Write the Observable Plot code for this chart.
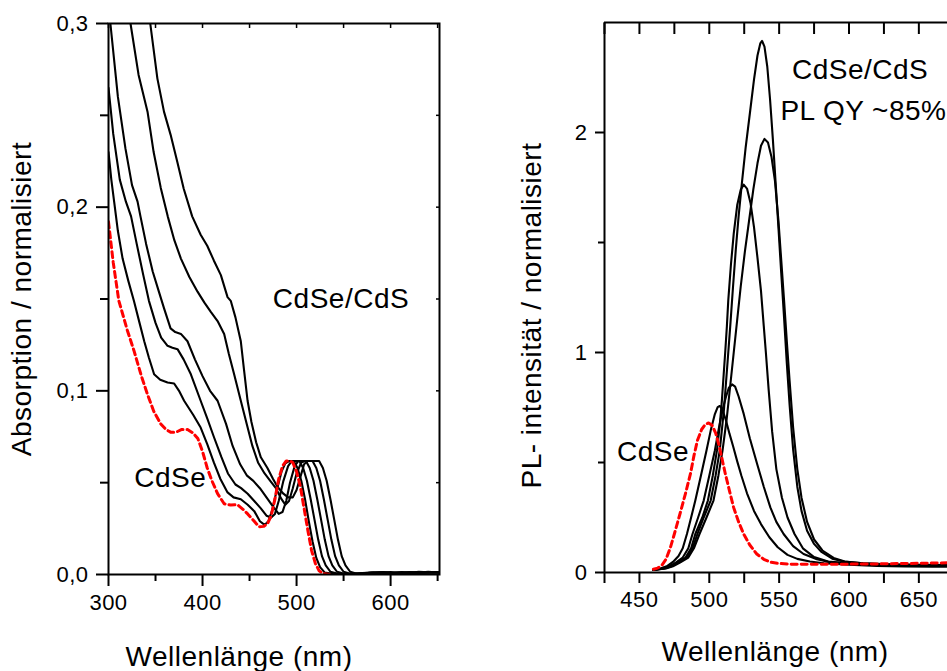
<!DOCTYPE html>
<html><head><meta charset="utf-8">
<script src="https://cdn.jsdelivr.net/npm/d3@7"></script>
<script src="https://cdn.jsdelivr.net/npm/@observablehq/plot@0.6"></script>
<style>
body{margin:0;background:#fff;}
#wrap{position:relative;width:947px;height:671px;overflow:hidden;background:#fff;}
#left,#right{position:absolute;top:0;}
#left{left:0px;}
#right{left:470px;}
</style></head><body>
<div id="wrap"><div id="left"></div><div id="right"></div></div>
<script>
// ---------- Absorption (left panel) ----------
const absCdSe = [[300,0.192],[305,0.17],[311,0.149],[320,0.133],[327,0.122],[335,0.108],[341.5,0.098],[348,0.089],[355.6,0.082],[361,0.079],[366,0.0775],[372,0.0775],[378,0.079],[384,0.079],[390,0.077],[395,0.074],[400,0.067],[405,0.058],[410,0.051],[416,0.044],[423,0.0385],[430,0.0378],[437,0.038],[443,0.0355],[448,0.033],[455,0.029],[460,0.026],[465,0.0262],[469,0.0275],[473,0.032],[477,0.041],[481,0.052],[485,0.059],[489,0.0618],[493,0.0618],[496,0.061],[500,0.056],[504,0.048],[508,0.036],[512,0.024],[516,0.013],[520,0.006],[524,0.002],[528,0.0005],[535,0]];
const absShell1 = [[300,0.23],[303,0.215],[306,0.203],[310,0.187],[315,0.172],[321,0.16],[327,0.149],[333,0.137],[338,0.127],[343,0.118],[348.5,0.109],[355,0.106],[362.8,0.1045],[369.8,0.104],[375,0.1],[380.4,0.0946],[390,0.087],[398,0.08],[405,0.071],[412,0.061],[419,0.052],[426.6,0.0447],[433,0.042],[440.7,0.041],[448,0.038],[455,0.0345],[461,0.029],[466,0.027],[470,0.029],[474,0.035],[479,0.046],[484,0.056],[488,0.0605],[492,0.0618],[497,0.0618],[501,0.058],[505,0.051],[509,0.041],[513,0.029],[517,0.018],[521,0.009],[525,0.004],[530,0.001],[540,0.0003],[552,0.0002],[565,0.0006],[580,0.001],[595,0.0006],[610,0.0012],[625,0.0008],[640,0.0015],[652,0.001]];
const absShell2 = [[300,0.265],[305,0.24],[312,0.215],[318.5,0.203],[324,0.195],[330,0.18],[337,0.163],[343,0.149],[350,0.137],[356,0.129],[362.8,0.1245],[368,0.1235],[373.4,0.1227],[380,0.117],[387.6,0.109],[398,0.0946],[405,0.085],[412,0.075],[420,0.064],[427,0.055],[435,0.049],[441,0.047],[448,0.044],[455,0.04],[462,0.036],[468,0.032],[473,0.031],[477,0.033],[481,0.04],[486,0.051],[491,0.059],[495,0.0618],[503,0.0618],[507,0.058],[511,0.051],[515,0.041],[519,0.03],[523,0.019],[527,0.01],[531,0.005],[536,0.0015],[545,0.0003],[556,0.0002],[568,0.0007],[582,0.0011],[597,0.0005],[612,0.0013],[627,0.0007],[642,0.0014],[652,0.0009]];
const absShell3 = [[300,0.31],[302,0.3],[310,0.26],[318,0.232],[325,0.212],[330.9,0.203],[334,0.195],[340,0.18],[347,0.165],[353,0.155],[359,0.145],[366,0.134],[371,0.132],[377,0.131],[384,0.127],[392,0.117],[400,0.108],[408,0.1],[416,0.0946],[425,0.082],[432,0.07],[440,0.06],[447,0.054],[454,0.051],[461,0.047],[468,0.042],[475,0.037],[481,0.033],[485,0.034],[489,0.04],[493,0.05],[498,0.059],[502,0.0618],[510,0.0618],[514,0.058],[518,0.051],[522,0.041],[526,0.03],[530,0.019],[534,0.01],[538,0.005],[543,0.0015],[552,0.0003],[562,0.0002],[575,0.0008],[590,0.0012],[605,0.0005],[620,0.0014],[635,0.0009],[652,0.0012]];
const absShell4 = [[318,0.33],[323.4,0.3],[332,0.272],[341.5,0.252],[348,0.23],[355.6,0.2105],[363,0.195],[370,0.182],[377,0.172],[386,0.162],[394.7,0.154],[402,0.148],[408.8,0.143],[416,0.138],[423,0.131],[428,0.12],[433.6,0.109],[440.7,0.0946],[447,0.082],[453,0.07],[459,0.061],[466,0.055],[472,0.051],[478,0.047],[484,0.041],[488,0.038],[492,0.04],[496,0.047],[500,0.055],[505,0.061],[509,0.0618],[517,0.0618],[521,0.058],[525,0.051],[529,0.041],[533,0.03],[537,0.019],[541,0.01],[545,0.005],[550,0.0015],[558,0.0003],[568,0.0002],[578,0.0009],[592,0.0013],[607,0.0006],[622,0.0012],[637,0.001],[652,0.0014]];
const absShell5 = [[338,0.33],[344.4,0.3],[352,0.27],[359,0.252],[366,0.2395],[373,0.225],[380,0.21],[389,0.195],[398,0.185],[405,0.179],[412,0.171],[419.5,0.163],[426.6,0.151],[430,0.149],[435,0.14],[440.7,0.127],[444,0.112],[447.9,0.0946],[452,0.083],[457,0.072],[462,0.0638],[469,0.058],[475,0.052],[480,0.0475],[486,0.044],[491,0.042],[496,0.042],[500,0.046],[504,0.053],[508,0.06],[512,0.0618],[524,0.0618],[528,0.058],[532,0.051],[536,0.041],[540,0.03],[544,0.019],[548,0.01],[552,0.005],[557,0.0015],[565,0.0003],[575,0.0003],[588,0.001],[600,0.0014],[615,0.0007],[630,0.0015],[645,0.001],[652,0.0013]];

const absXMajor = [300, 400, 500, 600];
const absXMinor = [350, 450, 550, 650];
const absXTop = [300, 350, 400, 450, 500, 550, 600, 650];
const absYMajor = [0, 0.1, 0.2, 0.3];
const absYMinor = [0.05, 0.15, 0.25];
const absYRight = [0.05, 0.1, 0.15, 0.2, 0.25];
const absLabels = [{text:"CdSe/CdS", nm:474.8, v:0.145},{text:"CdSe", nm:327.3, v:0.0474}];
const absXTitle = "Wellenlänge (nm)";
const absYTitle = "Absorption / normalisiert";

// ---------- Photoluminescence (right panel) ----------
const plCdSe = [[460,0.015],[463,0.02],[466,0.032],[469,0.06],[472,0.11],[475,0.175],[479,0.266],[483,0.36],[486.5,0.448],[489,0.53],[491.5,0.6],[494.5,0.65],[497,0.672],[499.5,0.68],[502,0.669],[504.5,0.635],[506.7,0.585],[509,0.52],[511.5,0.448],[514.5,0.37],[517.4,0.296],[521,0.23],[524.6,0.175],[529,0.125],[534,0.084],[539,0.06],[544,0.047],[550,0.041],[558,0.038],[580,0.037],[600,0.038],[620,0.039],[640,0.041],[660,0.043],[671,0.044]];
const plShell1 = [[460,0.012],[465,0.018],[470,0.03],[474,0.048],[478,0.075],[481,0.11],[484,0.175],[487,0.25],[490,0.327],[494,0.44],[498,0.555],[501,0.645],[504,0.72],[506,0.752],[507.5,0.757],[509.5,0.74],[512,0.69],[514.5,0.63],[517,0.575],[520,0.505],[523,0.44],[527,0.36],[532,0.28],[537,0.22],[543,0.16],[549,0.115],[556,0.08],[563,0.062],[572,0.05],[582,0.042],[600,0.035],[620,0.03],[640,0.028],[660,0.026],[671,0.026]];
const plShell2 = [[460,0.012],[466,0.018],[471,0.028],[476,0.045],[481,0.068],[485,0.11],[488,0.175],[492,0.25],[496,0.327],[500,0.44],[504,0.555],[507,0.66],[509.5,0.74],[512,0.8],[514,0.84],[516.3,0.855],[518.5,0.845],[521,0.8],[524.6,0.722],[529,0.61],[534.2,0.494],[539,0.39],[543.7,0.296],[548,0.23],[553.2,0.175],[560,0.12],[567.5,0.084],[577,0.06],[586.7,0.047],[600,0.04],[620,0.035],[640,0.032],[660,0.03],[671,0.03]];
const plShell3 = [[460,0.012],[467,0.018],[472,0.028],[477,0.045],[483,0.068],[487,0.11],[490,0.175],[495,0.25],[499,0.327],[502.5,0.44],[505.5,0.555],[507.5,0.67],[509,0.78],[510.3,0.9],[511.5,1.01],[512.6,1.12],[513.6,1.238],[515.5,1.4],[517.5,1.54],[520,1.67],[522.5,1.74],[524.6,1.763],[527,1.745],[529.5,1.68],[532,1.57],[534.5,1.43],[537,1.28],[539,1.12],[540.5,1.0],[542.5,0.83],[545,0.64],[548,0.47],[552,0.34],[556,0.25],[561,0.175],[567,0.11],[575,0.07],[585,0.05],[600,0.042],[620,0.036],[640,0.034],[660,0.033],[671,0.033]];
const plShell4 = [[460,0.012],[468,0.018],[473,0.028],[478,0.045],[484,0.068],[488,0.11],[491.5,0.175],[496,0.25],[501,0.327],[504.5,0.44],[507.5,0.555],[510.5,0.74],[513,0.95],[515,1.12],[517,1.3],[519,1.47],[521,1.62],[523.5,1.78],[526,1.93],[529.3,2.1],[532,2.24],[534.5,2.35],[536.5,2.405],[537.8,2.416],[539.5,2.39],[541.5,2.3],[543.5,2.15],[545.5,1.97],[547.5,1.77],[549.6,1.557],[551.5,1.36],[553.5,1.16],[555.5,0.95],[557.5,0.76],[560,0.56],[563,0.39],[566,0.28],[570,0.19],[575,0.13],[580,0.095],[588,0.063],[596,0.05],[610,0.042],[630,0.036],[650,0.034],[671,0.033]];
const plShell5 = [[460,0.012],[469,0.018],[474,0.028],[479,0.045],[485,0.068],[489,0.11],[493,0.175],[498,0.25],[503,0.327],[506.5,0.44],[509.5,0.555],[512.5,0.7],[515,0.85],[517.5,1.0],[520,1.15],[522.5,1.3],[525.5,1.46],[528.5,1.6],[531.5,1.74],[534.5,1.86],[537,1.94],[539.5,1.971],[542,1.955],[544.5,1.89],[547,1.78],[549.5,1.6],[551.5,1.42],[553.5,1.24],[555.5,1.05],[557.5,0.87],[560,0.66],[563,0.47],[566,0.34],[570,0.23],[575,0.15],[581,0.1],[589,0.066],[597,0.05],[610,0.042],[630,0.037],[650,0.035],[671,0.034]];

const plXTicks = [425, 450, 475, 500, 525, 550, 575, 600, 625, 650];
const plXDomain = [425, 670.5];
const plYDomain = [0, 2.5];
const plYMajor = [0, 1, 2];
const plYMinor = [0.5, 1.5];
const plLabels = [{text:"CdSe/CdS", nm:559.2, v:2.241},{text:"PL QY ~85%", nm:550.9, v:2.057},{text:"CdSe", nm:433.9, v:0.509}];
const plXTitle = "Wellenlänge (nm)";
const plYTitle = "PL- intensität / normalisiert";

// ---------- helpers ----------
const rows = (name, arr) => arr.map(([nm, v]) => ({series: name, nm, v}));
const absBlack = [
  ...rows("s1", absShell1), ...rows("s2", absShell2), ...rows("s3", absShell3),
  ...rows("s4", absShell4), ...rows("s5", absShell5)
];
const absRed = rows("core", absCdSe);
const plBlack = [
  ...rows("p1", plShell1), ...rows("p2", plShell2), ...rows("p3", plShell3),
  ...rows("p4", plShell4), ...rows("p5", plShell5)
];
const plRed = rows("core", plCdSe);

const font = "'Liberation Sans', Arial, Helvetica, sans-serif";
const baseStyle = {fontFamily: font, fontSize: "22px", color: "#000", background: "transparent", overflow: "visible", letterSpacing: "0.5px"};
const titleStyle = {fontSize: 28, fill: "#000", lineAnchor: "bottom", textAnchor: "middle"};

const leftChart = Plot.plot({
  width: 470, height: 671,
  marginLeft: 108, marginRight: 31, marginTop: 23, marginBottom: 97,
  style: baseStyle,
  x: {domain: [300, 652]},
  y: {domain: [0, 0.3]},
  marks: [
    Plot.line(absBlack, {x: "nm", y: "v", z: "series", stroke: "#000", strokeWidth: 2.1, clip: true}),
    Plot.line(absRed, {x: "nm", y: "v", stroke: "#ff0000", strokeWidth: 3, strokeDasharray: "6,4", clip: true}),
    Plot.frame({strokeWidth: 2}),
    Plot.axisX({ticks: absXMajor, tickSize: 12, tickPadding: 8, tickFormat: d => String(d), strokeWidth: 2, label: null, fontSize: 22}),
    Plot.axisX({ticks: absXMinor, tickSize: 7, text: null, strokeWidth: 2, label: null}),
    Plot.axisX({anchor: "top", ticks: absXTop, tickSize: -4, text: null, strokeWidth: 1.5, label: null}),
    Plot.axisY({ticks: absYMajor, tickSize: 12, tickPadding: 8, tickFormat: d => d.toFixed(1).replace(".", ","), strokeWidth: 2, label: null, fontSize: 22}),
    Plot.axisY({ticks: absYMinor, tickSize: 8, text: null, strokeWidth: 2, label: null}),
    Plot.axisY({anchor: "right", ticks: absYRight, tickSize: -4, text: null, strokeWidth: 1.5, label: null}),
    Plot.text(absLabels, {x: "nm", y: "v", text: "text", textAnchor: "start", lineAnchor: "bottom", fontSize: 28, fill: "#000"}),
    Plot.text([absXTitle], {frameAnchor: "bottom", text: d => d, dx: -35, dy: 91, ...titleStyle}),
    Plot.text([absYTitle], {frameAnchor: "left", text: d => d, rotate: -90, dx: -78, dy: 0, ...titleStyle})
  ]
});

const rightChart = Plot.plot({
  width: 477, height: 671,
  marginLeft: 134, marginRight: 0, marginTop: 22, marginBottom: 99,
  style: baseStyle,
  x: {domain: plXDomain},
  y: {domain: plYDomain},
  marks: [
    Plot.line(plBlack, {x: "nm", y: "v", z: "series", stroke: "#000", strokeWidth: 2.1, clip: true}),
    Plot.line(plRed, {x: "nm", y: "v", stroke: "#ff0000", strokeWidth: 3, strokeDasharray: "6,4", clip: true}),
    Plot.ruleX([plXDomain[0]], {strokeWidth: 2}),
    Plot.ruleY([plYDomain[0]], {strokeWidth: 2}),
    Plot.ruleY([plYDomain[1]], {strokeWidth: 2}),
    Plot.axisX({ticks: plXTicks, tickSize: 11, tickPadding: 8, tickFormat: d => (d % 50 === 0 ? String(d) : ""), strokeWidth: 2, label: null, fontSize: 22}),
    Plot.axisX({anchor: "top", ticks: plXTicks, tickSize: -11, text: null, strokeWidth: 2, label: null}),
    Plot.axisY({ticks: plYMajor, tickSize: 9, tickPadding: 8, tickFormat: d => String(d), strokeWidth: 2, label: null, fontSize: 22}),
    Plot.axisY({ticks: plYMinor, tickSize: 6, text: null, strokeWidth: 2, label: null}),
    Plot.text(plLabels, {x: "nm", y: "v", text: "text", textAnchor: "start", lineAnchor: "bottom", fontSize: 28, fill: "#000"}),
    Plot.text([plXTitle], {frameAnchor: "bottom", text: d => d, dx: -1, dy: 88, ...titleStyle}),
    Plot.text([plYTitle], {frameAnchor: "left", text: d => d, rotate: -90, dx: -64, dy: 18, ...titleStyle})
  ]
});

document.getElementById("left").appendChild(leftChart);
document.getElementById("right").appendChild(rightChart);
</script></body></html>
